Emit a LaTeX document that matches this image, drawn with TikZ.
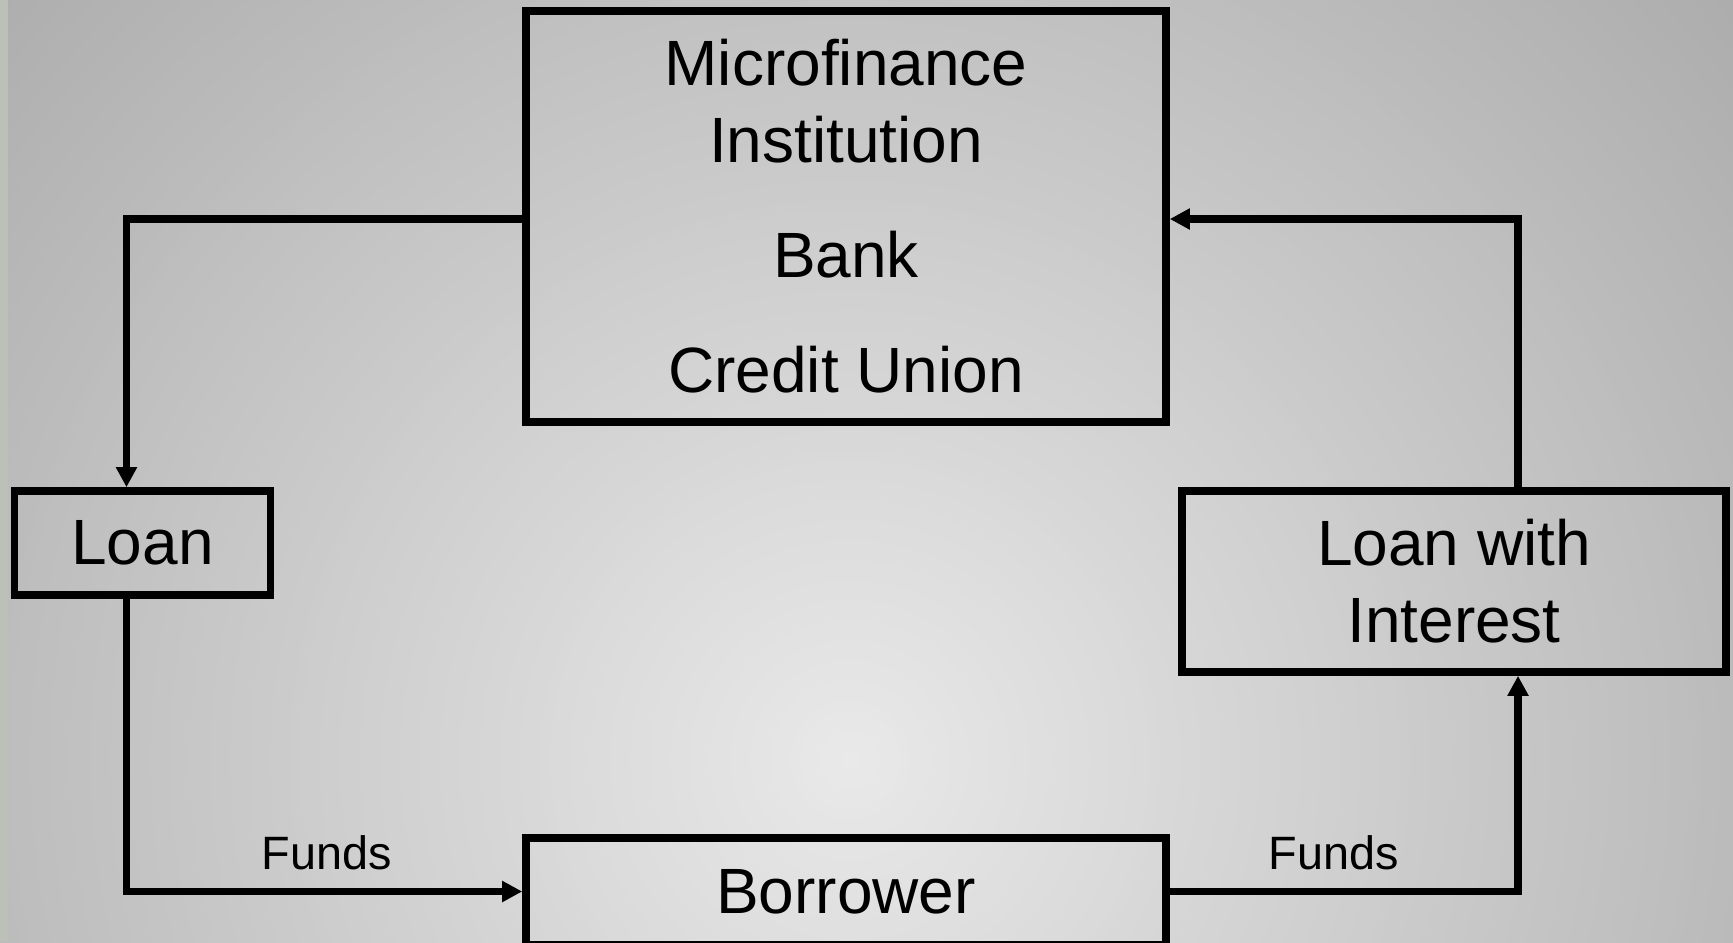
\documentclass[tikz,border=0pt]{standalone}
\usepackage{fontspec}
\setmainfont{Liberation Sans}
\usetikzlibrary{arrows.meta}
\definecolor{bgin}{HTML}{E9E9E9}
\definecolor{bgout}{HTML}{ABABAB}
\definecolor{strip}{HTML}{BCC0B8}
\tikzset{
  box/.style={draw=black, line width=3.8pt, rectangle, inner sep=0pt, align=center,
              font=\fontsize{32}{38.5}\selectfont},
  conn/.style={draw=black, line width=3.7pt, line join=miter},
  arr/.style={conn, -{Triangle[length=10pt,width=10pt]}},
  lbl/.style={font=\fontsize{23.4}{28}\selectfont, inner sep=0pt, anchor=base}
}
\begin{document}
\begin{tikzpicture}[x=0.5pt,y=-0.5pt]
\useasboundingbox (0,0) rectangle (1733,942);
\begin{scope}
\clip (0,0) rectangle (1733,942);
\fill[bgout] (0,0) rectangle (1733,942);
\foreach \i in {120,...,1}{
  \pgfmathsetmacro\p{100*\i/120}
  \fill[bgout!\p!bgin] (850,760) circle ({\i*5pt});
}
\fill[strip] (0,0) rectangle (8,942);
\end{scope}
% boxes
\node[box, minimum width=320pt, minimum height=205.5pt] (mfi) at (846,216.5)
  {Microfinance\\Institution\\[19pt]Bank\\[19pt]Credit Union};
\node[box, minimum width=128pt, minimum height=52pt] (loan) at (142.5,543) {Loan};
\node[box, minimum width=272pt, minimum height=90.5pt] (lwi) at (1454,581.5)
  {Loan with\\Interest};
\node[box, minimum width=320pt, minimum height=53.5pt] (bor) at (846,891.5) {Borrower};
% helper coordinates
\coordinate (lx) at (126.5,219);
\coordinate (rx) at (1518,219);
% connectors
\draw[arr] (mfi.west |- lx) -- (lx) -- (loan.north -| lx);
\draw[arr] (loan.south -| lx) |- (bor.west);
\draw[arr] (bor.east) -| (lwi.south -| rx);
\draw[arr] (lwi.north -| rx) -- (rx) -- (mfi.east |- rx);
% labels
\node[lbl] (f1) at (326.5,869) {Funds};
\node[lbl] (f2) at (1334,869) {Funds};
\end{tikzpicture}
\end{document}
